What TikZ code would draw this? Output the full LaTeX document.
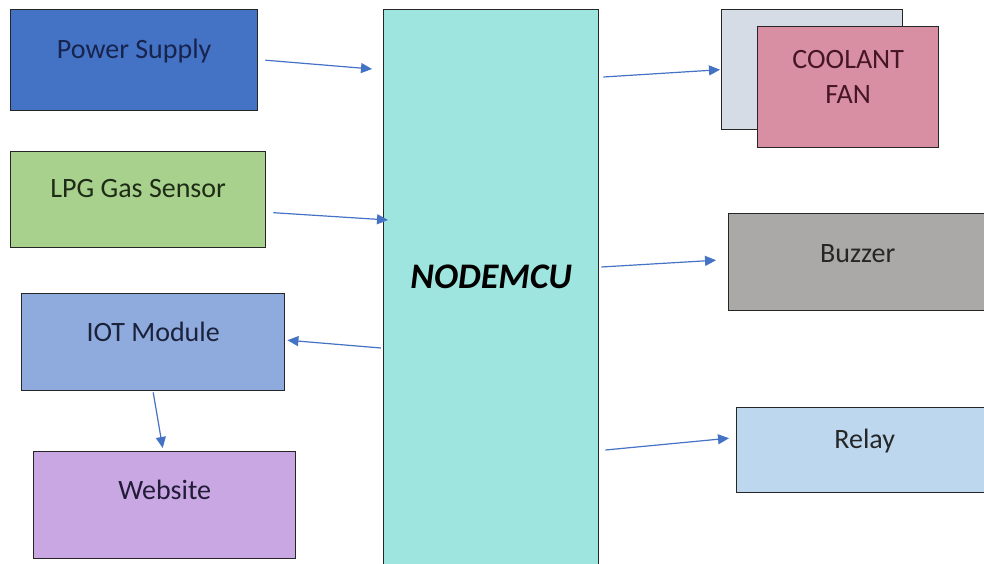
\documentclass[tikz,border=0pt]{standalone}
\usepackage{fontspec}
\setmainfont{Carlito}
\usetikzlibrary{arrows.meta,calc}
\definecolor{supplyblue}{HTML}{4472C4}
\definecolor{sensorgreen}{HTML}{A9D18E}
\definecolor{iotblue}{HTML}{8FAADC}
\definecolor{weblilac}{HTML}{C9A7E2}
\definecolor{mcuteal}{HTML}{9FE5DF}
\definecolor{fangray}{HTML}{D6DCE5}
\definecolor{fanpink}{HTML}{D98FA3}
\definecolor{buzzgray}{HTML}{ABA8A8}
\definecolor{relayblue}{HTML}{BDD7EE}
\definecolor{linkblue}{HTML}{4472C4}
\begin{document}
\begin{tikzpicture}[x=1pt, y=-1pt,
		every node/.style={draw=black!85, line width=1.4pt, inner sep=0pt, anchor=north west, font=\fontsize{28}{35}\selectfont},
		supply/.style={fill=supplyblue, text={rgb,255:red,22;green,36;blue,78}},
		sensor/.style={fill=sensorgreen, text={rgb,255:red,30;green,44;blue,22}},
		iot/.style={fill=iotblue, text={rgb,255:red,26;green,34;blue,60}},
		web/.style={fill=weblilac, text={rgb,255:red,34;green,28;blue,56}},
		mcu/.style={fill=mcuteal, text=black, font=\fontsize{36}{40}\selectfont\bfseries\itshape},
		fanback/.style={fill=fangray},
		fan/.style={fill=fanpink, text={rgb,255:red,70;green,22;blue,38}, align=center},
		buzz/.style={fill=buzzgray, text=black!85},
		relay/.style={fill=relayblue, text=black!85},
		flow/.style={draw=linkblue, line width=1.2pt, -{Triangle[length=11pt,width=10pt]}},
		]
		\useasboundingbox (0,0) rectangle (984,564);
		\clip (0,0) rectangle (984,564);
		% left column
		\node [supply, minimum width=247pt, text height=49pt, text depth=52pt] (ps) at (10,9) {Power Supply};
		\node [sensor, minimum width=255pt, text height=46pt, text depth=50pt] (lpg) at (10,151) {LPG Gas Sensor};
		\node [iot, minimum width=263pt, text height=48pt, text depth=49pt] (iot) at (21,293) {IOT Module};
		\node [web, minimum width=262pt, text height=48pt, text depth=59pt] (web) at (33,451) {Website};
		% controller
		\node [mcu, minimum width=215pt, text height=279pt, text depth=290pt] (mcu) at (383,9) {NODEMCU};
		% right column
		\node [fanback, minimum width=181pt, minimum height=120pt] (fanb) at (721,9) {};
		\node [fan, minimum width=181pt, text height=77pt, text depth=44pt] (fan) at (757,26) {COOLANT\\FAN};
		\node [buzz, minimum width=258pt, text height=49pt, text depth=48pt] (buzz) at (728,213) {Buzzer};
		\node [relay, minimum width=256pt, text height=41pt, text depth=44pt] (relay) at (736,407) {Relay};
		% links
		\draw [flow] ($(ps.east)+(7,0)$) -- ($(mcu.north west)+(-11,60)$);
		\draw [flow] ($(lpg.east)+(7,13)$) -- ($(mcu.north west)+(5,211)$);
		\draw [flow] ($(mcu.north west)+(-2,339)$) -- ($(iot.east)+(2,-2)$);
		\draw [flow] ($(iot.south)+(0,1)$) -- ($(web.north)+(-2,-3)$);
		\draw [flow] ($(mcu.north east)+(4,68)$) -- ($(fanb.west)+(-1,0)$);
		\draw [flow] ($(mcu.north east)+(2,258)$) -- ($(buzz.west)+(-12,-2)$);
		\draw [flow] ($(mcu.north east)+(6,441)$) -- ($(relay.west)+(-7,-12)$);
	\end{tikzpicture}
\end{document}
